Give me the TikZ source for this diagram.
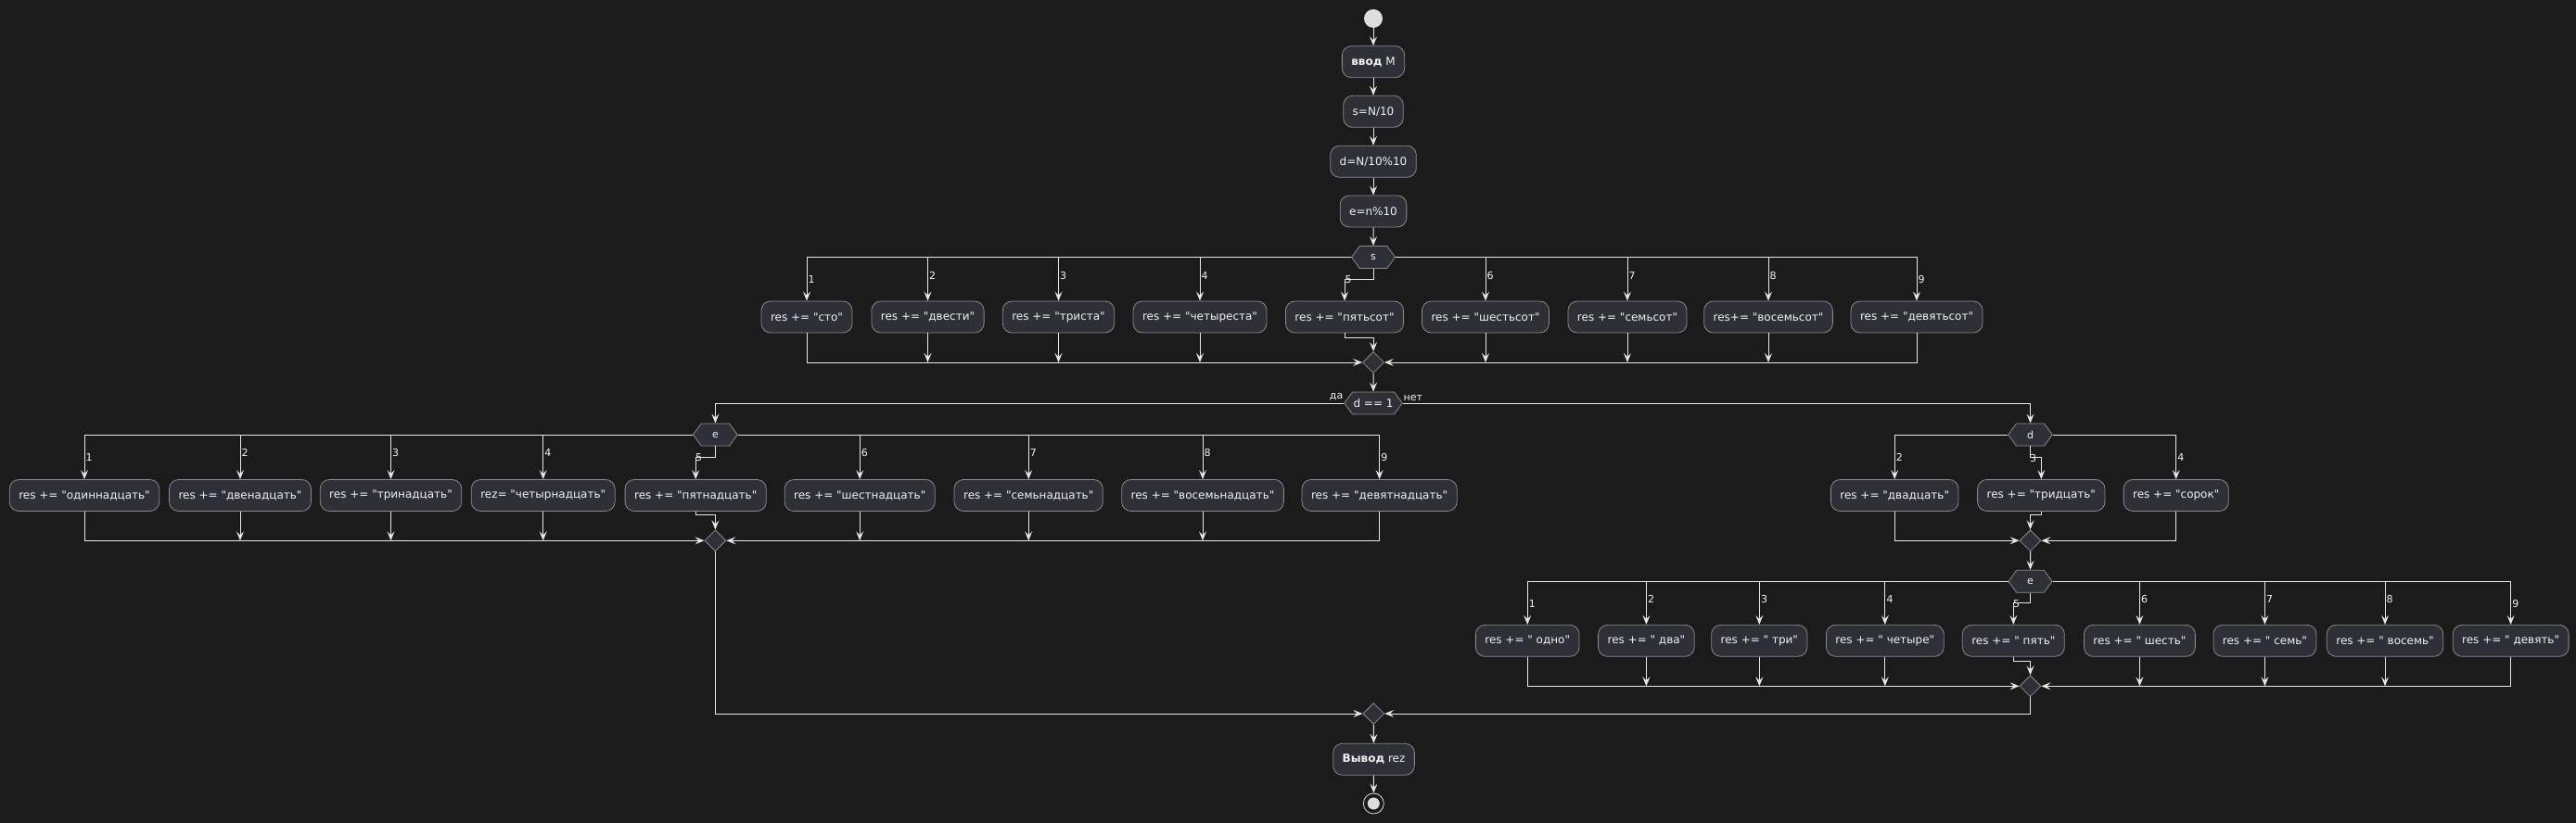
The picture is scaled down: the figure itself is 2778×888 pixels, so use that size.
\documentclass[tikz,border=0pt]{standalone}
\usepackage{fontspec}
\setmainfont{DejaVu Sans}[Ligatures=TeXOff]
\usetikzlibrary{arrows.meta,shapes.geometric,shapes.symbols}
\definecolor{bgc}{HTML}{1B1B1B}
\definecolor{boxfill}{HTML}{2F2F38}
\definecolor{bordercol}{HTML}{8A8A8A}
\definecolor{linecol}{HTML}{E6E6E6}
\definecolor{txtcol}{HTML}{F2F2F2}
\definecolor{startcol}{HTML}{DDDDDD}
\begin{document}
\begin{tikzpicture}[x=1pt,y=-1pt,
  box/.style={draw=bordercol, fill=boxfill, rounded corners=10pt, minimum height=34pt,
    inner xsep=10pt, inner ysep=0pt, text=txtcol, font=\fontsize{12}{14}\selectfont, line width=0.8pt},
  hexa/.style={signal, signal to=east and west, signal pointer angle=108, draw=bordercol,
    fill=boxfill, minimum height=24pt, inner sep=0pt, text=txtcol,
    font=\fontsize{11}{12}\selectfont, line width=0.8pt},
  merge/.style={diamond, draw=bordercol, fill=boxfill, minimum width=23pt, minimum height=23pt,
    inner sep=0pt, line width=0.8pt},
  flow/.style={draw=linecol, line width=1pt, -{Stealth[length=10pt,width=8pt,inset=4pt]}},
  lbl/.style={font=\fontsize{11}{12}\selectfont, text=txtcol, anchor=west, inner sep=0.5pt}
]
\fill[bgc] (0,0) rectangle (2778,888);
\useasboundingbox (0,0) rectangle (2778,888);

% top chain
\node[circle, fill=startcol, minimum size=20pt, inner sep=0pt] (start) at (1481,20) {};
\node[box] (inp) at (1481,66.7) {\textbf{ввод} M};
\node[box] (sN) at (1481,120.3) {s=N/10};
\node[box] (dN) at (1481,174.3) {d=N/10\%10};
\node[box] (eN) at (1481,228) {e=n\%10};
\node[hexa, minimum width=47pt] (sw) at (1481,277.5) {s};
\draw[flow] (start) -- (inp);
\draw[flow] (inp) -- (sN);
\draw[flow] (sN) -- (dN);
\draw[flow] (dN) -- (eN);
\draw[flow] (eN) -- (sw);

% hundreds row
\node[box] (s1) at (870,342) {res += "сто"};
\node[box] (s2) at (1000.5,342) {res += "двести"};
\node[box] (s3) at (1141.5,342) {res += "триста"};
\node[box] (s4) at (1294,342) {res += "четыреста"};
\node[box] (s5) at (1450,342) {res += "пятьсот"};
\node[box] (s6) at (1602,342) {res += "шестьсот"};
\node[box] (s7) at (1755,342) {res += "семьсот"};
\node[box] (s8) at (1907,342) {res+= "восемьсот"};
\node[box] (s9) at (2067,342) {res += "девятьсот"};
\node[merge] (sm) at (1481,391) {};

\foreach \i in {1,2,3,4} \draw[flow] (sw.west) -| (s\i.north);
\foreach \i in {6,7,8,9} \draw[flow] (sw.east) -| (s\i.north);
\draw[flow] (sw.south) -- ++(0,12) -| (s5.north);
\node[lbl] (ls1) at (871,301) {1};
\node[lbl] (ls2) at (1001.5,297) {2};
\node[lbl] (ls3) at (1142.5,297) {3};
\node[lbl] (ls4) at (1295,297) {4};
\node[lbl] (ls5) at (1450,302) {5};
\node[lbl] (ls6) at (1603,297) {6};
\node[lbl] (ls7) at (1756,297) {7};
\node[lbl] (ls8) at (1908,297) {8};
\node[lbl] (ls9) at (2068,301) {9};

\draw[flow] (s1.south) |- (sm.west);
\foreach \i in {2,3,4,6,7,8} \draw[flow] (s\i.south) -- (s\i.south |- sm.west);
\draw[flow] (s9.south) |- (sm.east);
\draw[flow] (s5.south) -- ++(0,5) -| (sm.north);

% d == 1
\node[hexa, minimum width=62.4pt, font=\fontsize{12}{14}\selectfont] (dq) at (1481,435) {d == 1};
\draw[flow] (sm) -- (dq);
\node[font=\fontsize{11}{12}\selectfont, text=txtcol, anchor=south east, inner sep=0.5pt] (lda) at (1449,433) {да};
\node[font=\fontsize{11}{12}\selectfont, text=txtcol, anchor=south west, inner sep=0.5pt] (lnet) at (1513,433) {нет};

% teens (yes branch)
\node[hexa, minimum width=47.8pt] (ew) at (771.4,469) {e};
\draw[flow] (dq.west) -| (ew.north);
\node[box] (e1) at (91,534.5) {res += "одиннадцать"};
\node[box] (e2) at (259,534.5) {res += "двенадцать"};
\node[box] (e3) at (421.5,534.5) {res += "тринадцать"};
\node[box] (e4) at (585.7,534.5) {rez= "четырнадцать"};
\node[box] (e5) at (750.2,534.5) {res += "пятнадцать"};
\node[box] (e6) at (927.2,534.5) {res += "шестнадцать"};
\node[box] (e7) at (1109.2,534.5) {res += "семьнадцать"};
\node[box] (e8) at (1297,534.5) {res += "восемьнадцать"};
\node[box] (e9) at (1487.6,534.5) {res += "девятнадцать"};
\node[merge] (em) at (771.4,583.3) {};
\foreach \i in {1,2,3,4} \draw[flow] (ew.west) -| (e\i.north);
\foreach \i in {6,7,8,9} \draw[flow] (ew.east) -| (e\i.north);
\draw[flow] (ew.south) -- ++(0,12) -| (e5.north);
\node[lbl] (le1) at (92,493) {1};
\node[lbl] (le2) at (260,488) {2};
\node[lbl] (le3) at (422.5,488) {3};
\node[lbl] (le4) at (586.7,488) {4};
\node[lbl] (le5) at (749.5,494) {5};
\node[lbl] (le6) at (928.2,488) {6};
\node[lbl] (le7) at (1110.2,488) {7};
\node[lbl] (le8) at (1298,488) {8};
\node[lbl] (le9) at (1488.6,493) {9};
\draw[flow] (e1.south) |- (em.west);
\foreach \i in {2,3,4,6,7,8} \draw[flow] (e\i.south) -- (e\i.south |- em.west);
\draw[flow] (e9.south) |- (em.east);
\draw[flow] (e5.south) -- ++(0,4) -| (em.north);

% tens (no branch)
\node[hexa, minimum width=47.6pt] (dw) at (2189.5,469) {d};
\draw[flow] (dq.east) -| (dw.north);
\node[box] (d2) at (2043.2,534.5) {res += "двадцать"};
\node[box] (d3) at (2201.3,534.5) {res += "тридцать"};
\node[box] (d4) at (2346.7,534.5) {res += "сорок"};
\node[merge] (dm) at (2189.5,583.3) {};
\draw[flow] (dw.west) -| (d2.north);
\draw[flow] (dw.east) -| (d4.north);
\draw[flow] (dw.south) -- ++(0,12) -| (d3.north);
\node[lbl] (ld2) at (2044.2,493) {2};
\node[lbl] (ld3) at (2188.5,494) {3};
\node[lbl] (ld4) at (2347.7,493) {4};
\draw[flow] (d2.south) |- (dm.west);
\draw[flow] (d4.south) |- (dm.east);
\draw[flow] (d3.south) -- ++(0,4) -| (dm.north);

% units
\node[hexa, minimum width=47pt] (uw) at (2189.5,627.3) {e};
\draw[flow] (dm) -- (uw);
\node[box] (u1) at (1647.2,691.3) {res += " одно"};
\node[box] (u2) at (1775.4,691.3) {res += " два"};
\node[box] (u3) at (1897.3,691.3) {res += " три"};
\node[box] (u4) at (2032.8,691.3) {res += " четыре"};
\node[box] (u5) at (2171.3,691.3) {res += " пять"};
\node[box] (u6) at (2307.4,691.3) {res += " шесть"};
\node[box] (u7) at (2442.4,691.3) {res += " семь"};
\node[box] (u8) at (2572,691.3) {res += " восемь"};
\node[box] (u9) at (2707.6,691.3) {res += " девять"};
\node[merge] (um) at (2189.5,740.3) {};
\foreach \i in {1,2,3,4} \draw[flow] (uw.west) -| (u\i.north);
\foreach \i in {6,7,8,9} \draw[flow] (uw.east) -| (u\i.north);
\draw[flow] (uw.south) -- ++(0,11) -| (u5.north);
\node[lbl] (lu1) at (1648.2,651) {1};
\node[lbl] (lu2) at (1776.4,646.5) {2};
\node[lbl] (lu3) at (1898.3,646.5) {3};
\node[lbl] (lu4) at (2033.8,646.5) {4};
\node[lbl] (lu5) at (2170.5,652) {5};
\node[lbl] (lu6) at (2308.4,646.5) {6};
\node[lbl] (lu7) at (2443.4,646.5) {7};
\node[lbl] (lu8) at (2573,646.5) {8};
\node[lbl] (lu9) at (2708.6,651) {9};
\draw[flow] (u1.south) |- (um.west);
\foreach \i in {2,3,4,6,7,8} \draw[flow] (u\i.south) -- (u\i.south |- um.west);
\draw[flow] (u9.south) |- (um.east);
\draw[flow] (u5.south) -- ++(0,5) -| (um.north);

% final
\node[merge] (fm) at (1481.3,770) {};
\draw[flow] (em.south) |- (fm.west);
\draw[flow] (um.south) |- (fm.east);
\node[box] (outp) at (1481.5,819.3) {\textbf{Вывод} rez};
\draw[flow] (fm) -- (outp);
\node[circle, draw=startcol, line width=0.8pt, fill=bgc, minimum size=22pt, inner sep=0pt] (stop) at (1481.3,867) {};
\node[circle, fill=startcol, minimum size=13pt, inner sep=0pt] (stopin) at (stop.center) {};
\draw[flow] (outp) -- (stop);
\end{tikzpicture}
\end{document}
